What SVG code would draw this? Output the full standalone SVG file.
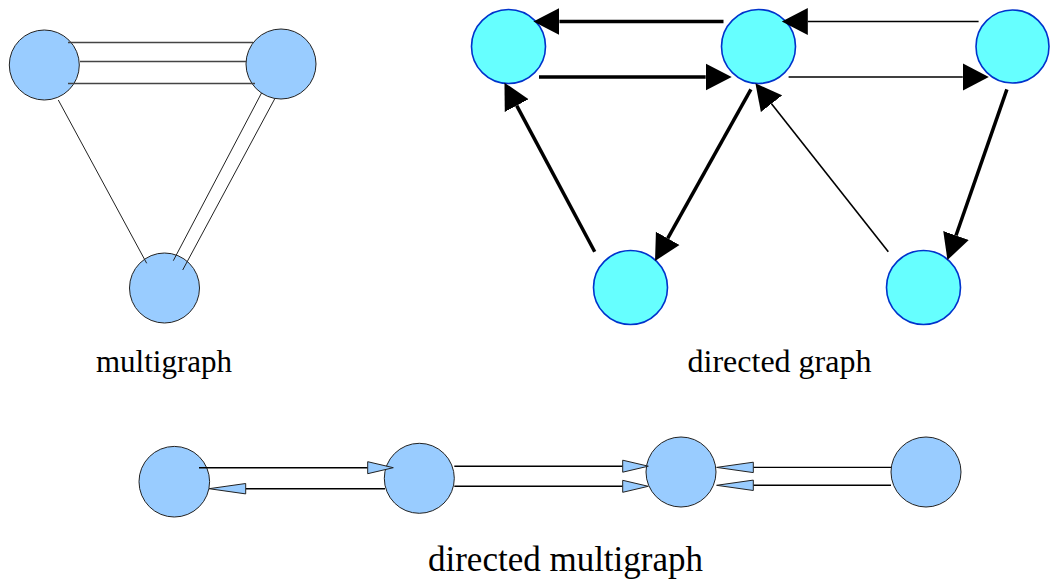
<svg xmlns="http://www.w3.org/2000/svg" width="1050" height="579" viewBox="0 0 1050 579">
  <style>
    .mnode { fill: #99ccff; stroke: #222; stroke-width: 1; }
    .dnode { fill: #66ffff; stroke: #0033cc; stroke-width: 1.6; }
    .uedge { stroke: #222; stroke-width: 1; fill: none; }
    .hedge { stroke: #444; stroke-width: 1.3; fill: none; }
    .thick { stroke: #000; stroke-width: 3.5; fill: none; marker-end: url(#bigHead); }
    .thin { stroke: #000; stroke-width: 1.6; fill: none; marker-end: url(#bigHead); }
    .medge { stroke: #000; stroke-width: 1.4; fill: none; }
    .short { marker-end: url(#shortHead); }
    .long { marker-end: url(#longHead); }
    .label { font-family: "Liberation Serif", "Times New Roman", serif; fill: #000; text-anchor: middle; }
  </style>
  <defs>
    <!-- solid black head for the directed graph; line ends at the head's base -->
    <marker id="bigHead" markerUnits="userSpaceOnUse" viewBox="0 -14 27 28" markerWidth="27" markerHeight="28" refX="0" refY="0" orient="auto">
      <path d="M0,-13.5 L26,0 L0,13.5 z" fill="#000"/>
    </marker>
    <!-- open light-blue heads for the directed multigraph -->
    <marker id="shortHead" markerUnits="userSpaceOnUse" viewBox="-1 -7 28 14" markerWidth="28" markerHeight="14" refX="0" refY="0" orient="auto">
      <path d="M0,-6 L25.6,0 L0,6 z" fill="#99ccff" stroke="#222" stroke-width="1"/>
    </marker>
    <marker id="longHead" markerUnits="userSpaceOnUse" viewBox="-1 -7 39 14" markerWidth="39" markerHeight="14" refX="0" refY="0" orient="auto">
      <path d="M0,-5.2 L36.7,0 L0,5.2 z" fill="#99ccff" stroke="#222" stroke-width="1"/>
    </marker>
  </defs>

  <rect width="1050" height="579" fill="#fff"/>

  <!-- multigraph -->
  <g id="multigraph-nodes">
    <g id="mg-a"><circle class="mnode" cx="44.3" cy="65" r="35"/></g>
    <g id="mg-b"><circle class="mnode" cx="281" cy="64" r="35"/></g>
    <g id="mg-c"><circle class="mnode" cx="164.5" cy="288" r="35"/></g>
  </g>
  <g id="multigraph-edges">
    <line class="hedge" x1="68" y1="42.5" x2="253" y2="42.5"/>
    <line class="hedge" x1="80" y1="61.5" x2="246" y2="61.5"/>
    <line class="hedge" x1="68" y1="83.5" x2="255" y2="83.5"/>
    <line class="uedge" x1="58.3" y1="100" x2="146.7" y2="263.3"/>
    <line class="uedge" x1="261.7" y1="92.7" x2="173.3" y2="260.7"/>
    <line class="uedge" x1="275" y1="98.3" x2="182.7" y2="270"/>
  </g>
  <text class="label" x="164" y="372" style="font-size:31px">multigraph</text>

  <!-- directed graph -->
  <g id="digraph-nodes">
    <g id="dg-1"><circle class="dnode" cx="508.5" cy="46.5" r="37"/></g>
    <g id="dg-2"><circle class="dnode" cx="758.5" cy="46.5" r="37"/></g>
    <g id="dg-3"><circle class="dnode" cx="1012.5" cy="46.5" r="36.5"/></g>
    <g id="dg-4"><circle class="dnode" cx="630.5" cy="287.5" r="37"/></g>
    <g id="dg-5"><circle class="dnode" cx="923.5" cy="287.5" r="37"/></g>
  </g>
  <g id="digraph-edges">
    <line class="thick" x1="723.5" y1="21.5" x2="559.4" y2="21.5"/>
    <line class="thick" x1="539" y1="77" x2="705.7" y2="77"/>
    <line class="thin" x1="978.6" y1="21.5" x2="807.8" y2="21.5"/>
    <line class="thin" x1="788.6" y1="77" x2="962.8" y2="77"/>
    <line class="thick" x1="594.7" y1="251.7" x2="516.7" y2="105.6"/>
    <line class="thick" x1="750.9" y1="89.3" x2="667.7" y2="238.3"/>
    <line class="thin" x1="888.3" y1="251.7" x2="771.5" y2="103.7"/>
    <line class="thick" x1="1006.9" y1="89.3" x2="956" y2="235.5"/>
  </g>
  <text class="label" x="779.5" y="372" style="font-size:32px">directed graph</text>

  <!-- directed multigraph -->
  <g id="dmg-nodes">
    <g id="dmg-1"><circle class="mnode" cx="174.3" cy="481.7" r="35.3"/></g>
    <g id="dmg-2"><circle class="mnode" cx="419.3" cy="478.3" r="35"/></g>
    <g id="dmg-3"><circle class="mnode" cx="681" cy="472" r="35"/></g>
    <g id="dmg-4"><circle class="mnode" cx="926" cy="472" r="35"/></g>
  </g>
  <g id="dmg-edges">
    <line class="medge short" x1="199" y1="467.7" x2="367.7" y2="467.7"/>
    <line class="medge long" x1="385" y1="488.7" x2="245.7" y2="488.7"/>
    <line class="medge short" x1="454.3" y1="466.2" x2="622.7" y2="466.2"/>
    <line class="medge short" x1="454.3" y1="486.3" x2="622.7" y2="486.3"/>
    <line class="medge long" x1="891" y1="467.4" x2="753.3" y2="467.4"/>
    <line class="medge long" x1="891" y1="485.3" x2="753.3" y2="485.3"/>
  </g>
  <text class="label" x="565.5" y="571" style="font-size:35px">directed multigraph</text>
</svg>
